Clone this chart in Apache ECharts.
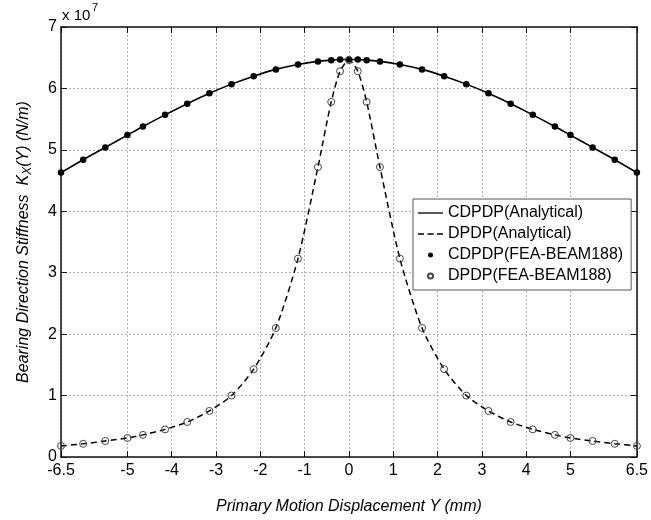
<!DOCTYPE html>
<html>
<head>
<meta charset="utf-8">
<script src="https://cdn.jsdelivr.net/npm/echarts@6/dist/echarts.min.js"></script>
<style>html,body{margin:0;padding:0;background:#fff;}#chart{width:651px;height:520px;}</style>
</head>
<body>
<div id="chart"></div>
<script>
// Displacement Y (mm)
const yDisp = [-6.5, -6, -5.5, -5, -4.65, -4.15, -3.65, -3.15, -2.65, -2.15, -1.65, -1.15, -0.7, -0.4, -0.2, 0,
  0.2, 0.4, 0.7, 1.15, 1.65, 2.15, 2.65, 3.15, 3.65, 4.15, 4.65, 5, 5.5, 6, 6.5];
// Stiffness (x 1e7 N/m)
const cdpdp = [4.63, 4.84, 5.04, 5.24, 5.38, 5.57, 5.75, 5.92, 6.07, 6.20, 6.31, 6.39, 6.44, 6.46, 6.47, 6.47,
  6.47, 6.46, 6.44, 6.39, 6.31, 6.20, 6.07, 5.92, 5.75, 5.57, 5.38, 5.24, 5.04, 4.84, 4.63];
const dpdp = [0.18, 0.215, 0.26, 0.31, 0.36, 0.45, 0.57, 0.75, 1.00, 1.43, 2.10, 3.23, 4.72, 5.78, 6.28, 6.46,
  6.28, 5.78, 4.72, 3.23, 2.10, 1.43, 1.00, 0.75, 0.57, 0.45, 0.36, 0.31, 0.26, 0.215, 0.18];
const xTicks = [-6.5, -5, -4, -3, -2, -1, 0, 1, 2, 3, 4, 5, 6.5];
const seriesNames = ['CDPDP(Analytical)', 'DPDP(Analytical)', 'CDPDP(FEA-BEAM188)', 'DPDP(FEA-BEAM188)'];

const pairs = (xs, ys) => xs.map((x, i) => [x, ys[i]]);
const font = 'Arial, "Liberation Sans", sans-serif';

const chart = echarts.init(document.getElementById('chart'), null, {renderer: 'canvas'});
const axisLine = {show: true, onZero: false, lineStyle: {color: '#111', width: 1.5}};
const tickStyle = {show: true, inside: true, length: 6, lineStyle: {color: '#111', width: 1}};
const gridLine = {show: true, lineStyle: {color: '#b0b0b0', type: [2, 2], width: 1}};

chart.setOption({
  animation: false,
  backgroundColor: '#fff',
  textStyle: {fontFamily: font},
  grid: {left: 61, right: 12, top: 27, bottom: 63, show: false},
  xAxis: [{
    type: 'value', position: 'bottom', min: -6.5, max: 6.5,
    axisLine: axisLine,
    axisTick: Object.assign({customValues: xTicks}, tickStyle),
    axisLabel: {customValues: xTicks, color: '#000', fontSize: 16, fontFamily: font, margin: 6},
    splitLine: gridLine,
    name: 'Primary Motion Displacement Y (mm)', nameLocation: 'middle', nameGap: 42,
    nameTextStyle: {fontSize: 16, fontStyle: 'italic', color: '#000', fontFamily: font}
  }, {
    type: 'value', position: 'top', min: -6.5, max: 6.5,
    axisLine: axisLine,
    axisTick: Object.assign({customValues: xTicks}, tickStyle),
    axisLabel: {show: false}, splitLine: {show: false}
  }],
  yAxis: [{
    type: 'value', position: 'left', min: 0, max: 7, interval: 1,
    axisLine: axisLine,
    axisTick: tickStyle,
    axisLabel: {color: '#000', fontSize: 16, fontFamily: font, margin: 4},
    splitLine: gridLine,
    name: 'Bearing Direction Stiffness  K{sub|X}(Y) (N/m)', nameLocation: 'middle', nameGap: 27,
    nameTextStyle: {fontSize: 16, fontStyle: 'italic', color: '#000', fontFamily: font,
      rich: {sub: {fontSize: 12, fontStyle: 'italic', verticalAlign: 'bottom', padding: [8, 0, 0, 0], fontFamily: font}}}
  }, {
    type: 'value', position: 'right', min: 0, max: 7, interval: 1,
    axisLine: axisLine,
    axisTick: tickStyle,
    axisLabel: {show: false}, splitLine: {show: false}
  }],
  graphic: [
    {type: 'text', left: 62, top: 8, style: {text: 'x 10', font: '15px ' + font, fill: '#000'}},
    {type: 'text', left: 92, top: 2, style: {text: '7', font: '11px ' + font, fill: '#000'}}
  ],
  legend: {
    orient: 'vertical', left: 413, top: 199,
    padding: [6, 8, 6, 5], itemGap: 5, itemWidth: 25, itemHeight: 5,
    backgroundColor: '#fff', borderColor: '#555', borderWidth: 1, borderRadius: 0,
    textStyle: {fontSize: 16, color: '#000', fontFamily: font},
    data: [
      {name: seriesNames[0], icon: 'path://M0,0H25V1.3H0Z', itemStyle: {color: '#000', borderWidth: 0}},
      {name: seriesNames[1], icon: 'path://M0,0H6V1.3H0Z M9.5,0H15.5V1.3H9.5Z M19,0H25V1.3H19Z', itemStyle: {color: '#000', borderWidth: 0}},
      {name: seriesNames[2]},
      {name: seriesNames[3]}
    ]
  },
  series: [{
    name: seriesNames[0], type: 'line', data: pairs(yDisp, cdpdp), smooth: 0.3,
    symbol: 'none', lineStyle: {color: '#000', width: 1.6}, itemStyle: {color: '#000'}, z: 2
  }, {
    name: seriesNames[1], type: 'line', data: pairs(yDisp, dpdp), smooth: 0.25,
    symbol: 'none', lineStyle: {color: '#000', width: 1.5, type: [6, 4]}, itemStyle: {color: '#000'}, z: 2
  }, {
    name: seriesNames[2], type: 'scatter', data: pairs(yDisp, cdpdp), symbol: 'circle', symbolSize: 6.5,
    itemStyle: {color: '#000', opacity: 1}, z: 3
  }, {
    name: seriesNames[3], type: 'scatter', data: pairs(yDisp, dpdp), symbol: 'circle', symbolSize: 7,
    itemStyle: {color: 'rgba(255,255,255,0)', borderColor: '#444', borderWidth: 1, opacity: 1}, z: 3
  }]
});
</script>
</body>
</html>
